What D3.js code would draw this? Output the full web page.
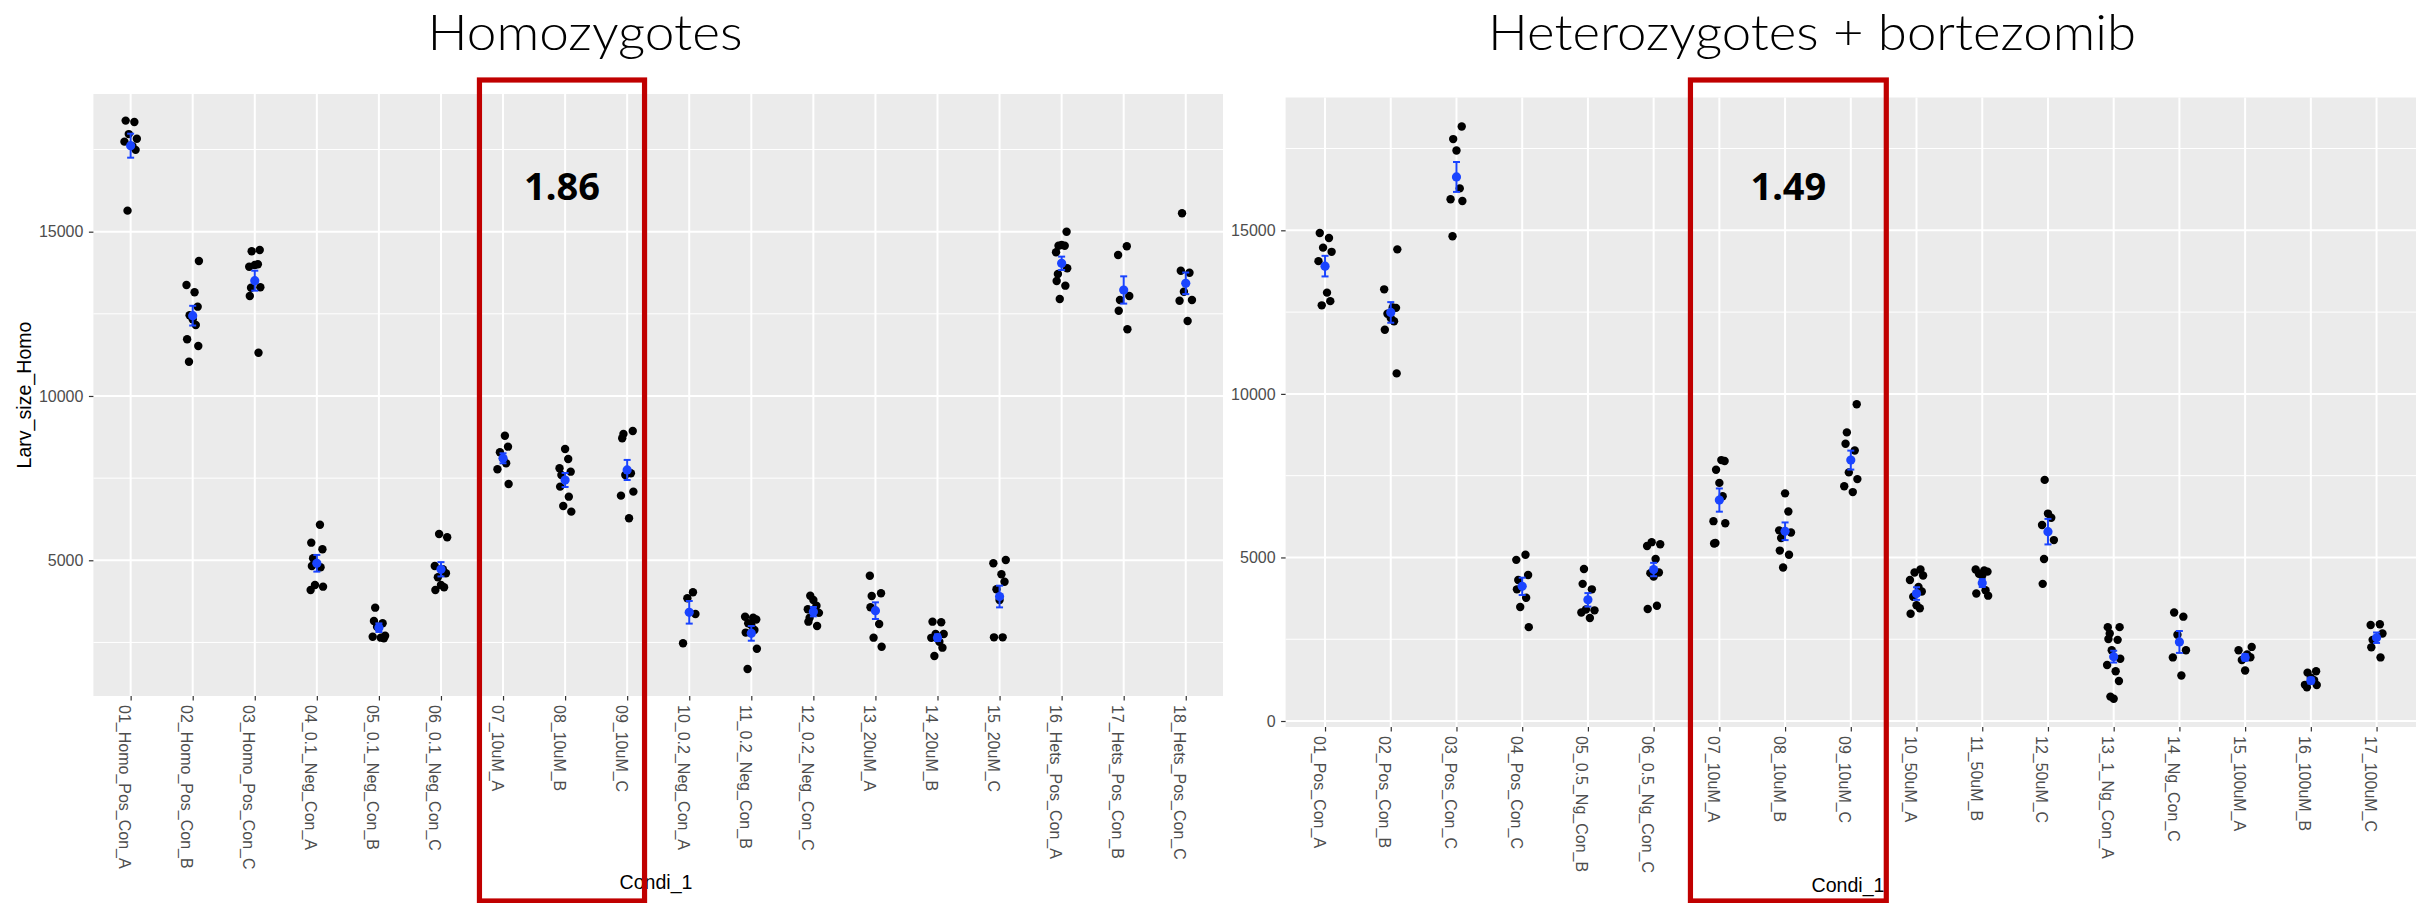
<!DOCTYPE html>
<html>
<head>
<meta charset="utf-8">
<script src="https://cdn.jsdelivr.net/npm/d3@7"></script>
<style>
  html, body { margin: 0; padding: 0; background: #ffffff; }
  svg { display: block; }
</style>
</head>
<body>
<svg id="chart" width="2436" height="903"></svg>
<script>
// ---------------- DATA ----------------
const titleHomo = "Homozygotes";
const titleHet = "Heterozygotes + bortezomib";
const yTitle = "Larv_size_Homo";
const xTitle = "Condi_1";
const annotHomo = "1.86";
const annotHet = "1.49";

const catsHomo = ["01_Homo_Pos_Con_A","02_Homo_Pos_Con_B","03_Homo_Pos_Con_C","04_0.1_Neg_Con_A","05_0.1_Neg_Con_B","06_0.1_Neg_Con_C","07_10uM_A","08_10uM_B","09_10uM_C","10_0.2_Neg_Con_A","11_0.2_Neg_Con_B","12_0.2_Neg_Con_C","13_20uM_A","14_20uM_B","15_20uM_C","16_Hets_Pos_Con_A","17_Hets_Pos_Con_B","18_Hets_Pos_Con_C"];
const pointsHomo = [
  [18380, 18340, 17970, 17830, 17740, 17600, 17490, 15640],
  [14108, 13378, 13156, 12718, 12456, 12334, 12161, 11725, 11522, 11044],
  [14443, 14403, 13987, 14008, 13935, 13308, 13296, 13043, 11318],
  [6083, 5536, 5335, 5061, 4827, 4787, 4248, 4197, 4096],
  [3558, 3153, 3083, 2980, 2706, 2675, 2645, 2626],
  [5800, 5700, 4827, 4726, 4604, 4483, 4248, 4178, 4096],
  [8792, 8458, 8287, 8100, 7952, 7770, 7322],
  [8387, 8083, 7800, 7697, 7597, 7241, 6936, 6653, 6480],
  [8935, 8844, 8713, 7648, 7597, 7089, 6967, 6278],
  [4026, 3844, 3366, 2474],
  [3284, 3253, 3200, 3083, 3031, 2879, 2800, 2310, 1692],
  [3923, 3792, 3619, 3509, 3400, 3253, 3132, 3001],
  [4531, 3996, 3914, 3570, 3062, 2645, 2371],
  [3132, 3113, 2757, 2757, 2640, 2523, 2341, 2088],
  [5009, 4909, 4574, 4349, 4118, 3792, 2655, 2655],
  [15000, 14574, 14595, 14574, 14372, 13886, 13713, 13500, 13357, 12952],
  [14556, 14291, 13043, 12922, 12596, 12030],
  [15560, 13813, 13752, 13174, 12922, 12900, 12283]
];
const meanHomo = [17617, 12444, 13509, 4909, 2949, 4726, 8104, 7444, 7749, 3417, 2777, 3436, 3467, 2645, 3897, 14038, 13226, 13429];
const seHomo   = [365, 300, 304, 254, 130, 218, 152, 213, 305, 344, 224, 142, 253, 100, 330, 203, 415, 329];
const yTicksHomo = [5000, 10000, 15000];
const yMinorHomo = [2500, 7500, 12500, 17500];

const catsHet = ["01_Pos_Con_A","02_Pos_Con_B","03_Pos_Con_C","04_Pos_Con_C","05_0.5_Ng_Con_B","06_0.5_Ng_Con_C","07_10uM_A","08_10uM_B","09_10uM_C","10_50uM_A","11_50uM_B","12_50uM_C","13_1_Ng_Con_A","14_Ng_Con_C","15_100uM_A","16_100uM_B","17_100uM_C"];
const pointsHet = [
  [14919, 14766, 14470, 14342, 14058, 13095, 12835, 12707],
  [14418, 13196, 12643, 12630, 12450, 12322, 12218, 11961, 10626],
  [18174, 17789, 17440, 16282, 15949, 15897, 14819],
  [5082, 4926, 4465, 4309, 4025, 3768, 3487, 2870],
  [4645, 4193, 4025, 3407, 3383, 3319, 3151],
  [5467, 5403, 5351, 4951, 4541, 4520, 4413, 3524, 3423],
  [7976, 7949, 7680, 7279, 6870, 6109, 6045, 5440, 5427],
  [6959, 6405, 5828, 5764, 5596, 5210, 5082, 4694],
  [9684, 8823, 8477, 8270, 7600, 7395, 7178, 6998],
  [4630, 4541, 4450, 4309, 4100, 3961, 3800, 3539, 3447, 3279],
  [4630, 4600, 4566, 4502, 4450, 4000, 3900, 3832],
  [7371, 6341, 6213, 5993, 5531, 4951, 4193],
  [2870, 2870, 2674, 2509, 2481, 2161, 1904, 1711, 1519, 1222, 746, 681],
  [3319, 3190, 2637, 2161, 1944, 1390],
  [2265, 2161, 2032, 1950, 1864, 1543],
  [1519, 1479, 1326, 1250, 1106, 1100, 1030],
  [2958, 2934, 2674, 2481, 2252, 1944]
];
const meanHet = [13905, 12490, 16631, 4116, 3704, 4630, 6754, 5800, 7976, 3896, 4217, 5788, 1968, 2417, 1944, 1235, 2546];
const seHet   = [315, 315, 457, 265, 206, 205, 355, 270, 290, 193, 120, 390, 180, 335, 100, 90, 160];
const yTicksHet = [0, 5000, 10000, 15000];
const yMinorHet = [2500, 7500, 12500, 17500];

// deterministic horizontal spread pattern (fraction of category step)
const spread = [-0.08, 0.06, -0.03, 0.1, -0.1, 0.03, 0.08, -0.05, 0.0, 0.05, -0.09, 0.09, -0.06];

// ---------------- LAYOUT ----------------
const svg = d3.select("#chart");
const tickColor = "#333333";
const tickTextColor = "#4d4d4d";
const panelBg = "#ebebeb";
const meanColor = "#1a44ff";
const boxColor = "#c00000";

function drawPanel(cfg) {
  const g = svg.append("g");
  const x = d3.scalePoint().domain(cfg.cats).range([cfg.left, cfg.right]).padding(0.6);
  const y = d3.scaleLinear().domain(cfg.yDomain).range([cfg.bottom, cfg.top]);
  const step = x.step();

  g.append("rect").attr("x", cfg.left).attr("y", cfg.top)
    .attr("width", cfg.right - cfg.left).attr("height", cfg.bottom - cfg.top)
    .attr("fill", panelBg);

  g.selectAll(".ymin").data(cfg.yMinor).enter().append("line")
    .attr("x1", cfg.left).attr("x2", cfg.right)
    .attr("y1", d => y(d)).attr("y2", d => y(d))
    .attr("stroke", "#ffffff").attr("stroke-width", 1);
  g.selectAll(".ymaj").data(cfg.yTicks).enter().append("line")
    .attr("x1", cfg.left).attr("x2", cfg.right)
    .attr("y1", d => y(d)).attr("y2", d => y(d))
    .attr("stroke", "#ffffff").attr("stroke-width", 2);
  g.selectAll(".xmaj").data(cfg.cats).enter().append("line")
    .attr("x1", d => x(d)).attr("x2", d => x(d))
    .attr("y1", cfg.top).attr("y2", cfg.bottom)
    .attr("stroke", "#ffffff").attr("stroke-width", 2);

  const ya = g.append("g").attr("transform", `translate(${cfg.left},0)`)
    .call(d3.axisLeft(y).tickValues(cfg.yTicks).tickSize(4.5).tickPadding(5.5).tickFormat(d3.format("d")));
  ya.select(".domain").remove();
  ya.selectAll("line").attr("stroke", tickColor).attr("stroke-width", 1.2);
  ya.selectAll("text").attr("fill", tickTextColor)
    .style("font-family", "'Liberation Sans', Arial, sans-serif").style("font-size", "16px");

  const xa = g.append("g").attr("transform", `translate(0,${cfg.bottom})`)
    .call(d3.axisBottom(x).tickSize(4.5));
  xa.select(".domain").remove();
  xa.selectAll("line").attr("stroke", tickColor).attr("stroke-width", 1.2);
  xa.selectAll("text")
    .attr("x", 0).attr("y", 0).attr("dy", null)
    .attr("transform", `translate(-12,${cfg.labelGap}) rotate(90)`)
    .attr("text-anchor", "start")
    .attr("fill", tickTextColor)
    .style("font-family", "'Liberation Sans', Arial, sans-serif").style("font-size", "16px");

  const pts = [];
  cfg.points.forEach((arr, ci) => {
    arr.forEach((v, i) => pts.push({ c: cfg.cats[ci], v: v, j: spread[(i + ci * 3) % spread.length] }));
  });
  g.selectAll(".pt").data(pts).enter().append("circle")
    .attr("cx", d => x(d.c) + d.j * step)
    .attr("cy", d => y(d.v))
    .attr("r", 4.2).attr("fill", "#000000");

  const stats = cfg.cats.map((c, i) => ({ c: c, m: cfg.means[i], se: cfg.se[i] }));
  const eb = g.selectAll(".eb").data(stats).enter().append("g");
  eb.append("line").attr("x1", d => x(d.c)).attr("x2", d => x(d.c))
    .attr("y1", d => y(d.m - d.se)).attr("y2", d => y(d.m + d.se))
    .attr("stroke", meanColor).attr("stroke-width", 2);
  eb.append("line").attr("x1", d => x(d.c) - 3.5).attr("x2", d => x(d.c) + 3.5)
    .attr("y1", d => y(d.m + d.se)).attr("y2", d => y(d.m + d.se))
    .attr("stroke", meanColor).attr("stroke-width", 2);
  eb.append("line").attr("x1", d => x(d.c) - 3.5).attr("x2", d => x(d.c) + 3.5)
    .attr("y1", d => y(d.m - d.se)).attr("y2", d => y(d.m - d.se))
    .attr("stroke", meanColor).attr("stroke-width", 2);
  eb.append("circle").attr("cx", d => x(d.c)).attr("cy", d => y(d.m))
    .attr("r", 4.6).attr("fill", meanColor);

  if (cfg.yTitle) {
    svg.append("text")
      .attr("transform", `translate(31,${(cfg.top + cfg.bottom) / 2}) rotate(-90)`)
      .attr("text-anchor", "middle")
      .style("font-family", "'Liberation Sans', Arial, sans-serif").style("font-size", "19.6px")
      .attr("fill", "#000").text(cfg.yTitle);
  }
  svg.append("text")
    .attr("x", cfg.xTitleX).attr("y", cfg.xTitleY)
    .attr("text-anchor", "middle")
    .style("font-family", "'Liberation Sans', Arial, sans-serif").style("font-size", "19.6px")
    .attr("fill", "#000").text(xTitle);

  svg.append("text")
    .attr("x", cfg.titleX).attr("y", 50)
    .attr("text-anchor", "middle")
    .attr("textLength", cfg.titleLen).attr("lengthAdjust", "spacingAndGlyphs")
    .style("font-family", "Lato, 'Open Sans', sans-serif").style("font-weight", "300").style("font-size", "49px")
    .attr("fill", "#000").text(cfg.title);

  const bx0 = x(cfg.cats[6]) + cfg.boxPad[0] * step;
  const bx1 = x(cfg.cats[8]) + cfg.boxPad[1] * step;
  svg.append("rect").attr("x", bx0).attr("y", 80)
    .attr("width", bx1 - bx0).attr("height", 821)
    .attr("fill", "none").attr("stroke", boxColor).attr("stroke-width", 5.2);
  svg.append("text")
    .attr("x", (bx0 + bx1) / 2).attr("y", 200)
    .attr("text-anchor", "middle")
    .style("font-family", "'Noto Sans', 'Open Sans', sans-serif").style("font-weight", "700").style("font-size", "38px")
    .attr("fill", "#000").text(cfg.annot);
}

drawPanel({
  cats: catsHomo, points: pointsHomo, means: meanHomo, se: seHomo,
  yTicks: yTicksHomo, yMinor: yMinorHomo,
  left: 93.4, right: 1223, top: 94, bottom: 696, yDomain: [870, 19190],
  labelGap: 9, yTitle: yTitle, xTitleX: 656, xTitleY: 889,
  title: titleHomo, titleX: 585, titleLen: 315,
  boxPad: [-0.38, 0.28], annot: annotHomo
});

drawPanel({
  cats: catsHet, points: pointsHet, means: meanHet, se: seHet,
  yTicks: yTicksHet, yMinor: yMinorHet,
  left: 1285.6, right: 2416, top: 97.5, bottom: 727, yDomain: [-183, 19060],
  labelGap: 9, yTitle: null, xTitleX: 1848, xTitleY: 892,
  title: titleHet, titleX: 1812, titleLen: 648,
  boxPad: [-0.44, 0.54], annot: annotHet
});
</script>
</body>
</html>
